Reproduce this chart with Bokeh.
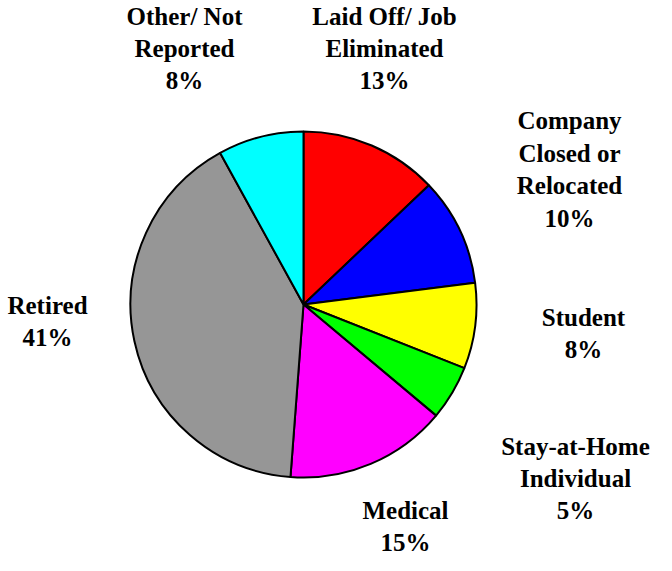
from bokeh.plotting import figure
from bokeh.models import Range1d, ColumnDataSource
from bokeh.embed import file_html
from bokeh.resources import INLINE
from bokeh.core.properties import value
import math

# --- data ---
categories = ["Laid Off/ Job\nEliminated", "Company\nClosed or\nRelocated", "Student",
              "Stay-at-Home\nIndividual", "Medical", "Retired", "Other/ Not\nReported"]
shares = [12.9, 10.1, 8.0, 5.1, 15.1, 40.8, 8.0]
colors = ["#FF0000", "#0000FF", "#FFFF00", "#00FF00", "#FF00FF", "#969696", "#00FFFF"]

# --- layout (pixel space) ---
W, H = 656, 555
cx, cy = 303, H - 304
R = 173
label_xy = [(384, 48), (569, 169), (583, 333), (575, 478), (405, 526), (47, 321), (184, 48)]

total = sum(shares)
starts, ends = [], []
cum = 0.0
for s in shares:
    starts.append(math.pi / 2 - 2 * math.pi * cum / total)
    cum += s
    ends.append(math.pi / 2 - 2 * math.pi * cum / total)

src = ColumnDataSource(dict(x=[cx] * len(shares), y=[cy] * len(shares),
                            start=starts, end=ends, color=colors))

p = figure(width=W, height=H, output_backend="svg", toolbar_location=None,
           x_range=Range1d(0, W), y_range=Range1d(0, H), min_border=0)
p.axis.visible = False
p.grid.visible = False
p.outline_line_color = None
p.background_fill_color = "white"
p.border_fill_color = "white"

p.wedge(x="x", y="y", radius=R, start_angle="start", end_angle="end", direction="clock",
        fill_color="color", line_color="black", line_width=2, source=src)

texts = [f"{c}\n{round(s / total * 100):d}%" for c, s in zip(categories, shares)]
lsrc = ColumnDataSource(dict(x=[xy[0] for xy in label_xy], y=[H - xy[1] for xy in label_xy], t=texts))
p.text(x="x", y="y", text="t", source=lsrc, text_align="center", text_baseline="middle",
       text_font=value("Liberation Serif"), text_font_style="bold", text_font_size="25px",
       text_line_height=1.2, text_color="black")

open("out.html", "w").write(file_html(p, INLINE))
